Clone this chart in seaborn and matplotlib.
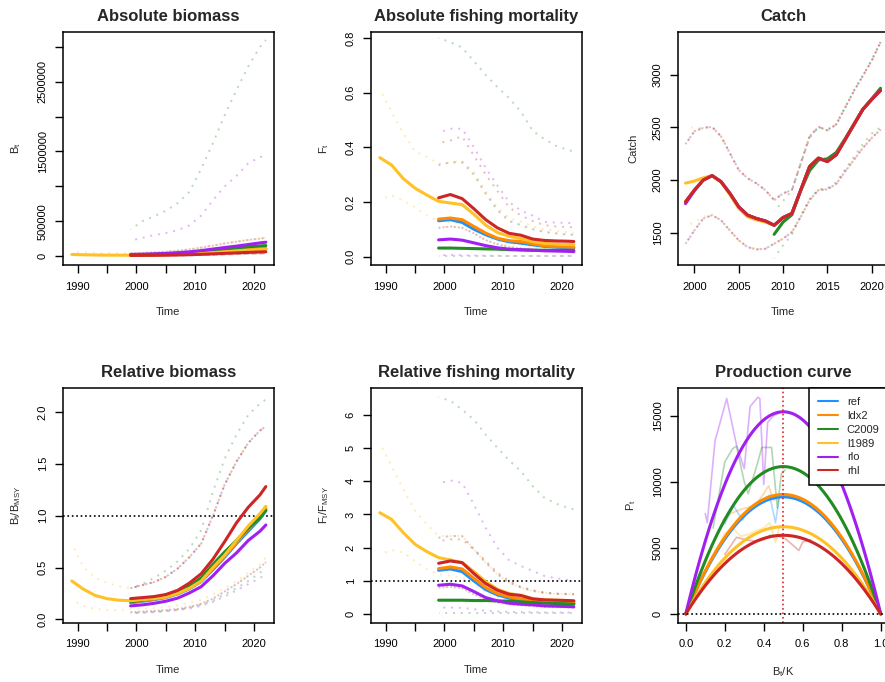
import matplotlib
matplotlib.use("Agg")
import matplotlib.pyplot as plt
from matplotlib.lines import Line2D
import seaborn as sns

sns.set_style("ticks")
plt.rcParams['font.family'] = ['Liberation Sans', 'DejaVu Sans']
plt.rcParams['mathtext.default'] = 'regular'

# ---------------- data ----------------
models = ["ref", "ldx2", "C2009", "l1989", "rlo", "rhl"]
colors = {"ref": "#1E90FF", "ldx2": "#FF8C00", "C2009": "#228B22",
          "l1989": "#FFC125", "rlo": "#A020F0", "rhl": "#CD2626"}

years99 = [1999, 2001, 2003, 2005, 2007, 2009, 2011, 2013, 2015, 2017, 2019, 2021, 2022]
years89 = [1989, 1991, 1993, 1995, 1997] + years99

# Absolute biomass
B_est = {
    "ref":   [15000, 17000, 20000, 24000, 30000, 38000, 48000, 60000, 72000, 82000, 92000, 100000, 104000],
    "ldx2":  [14000, 16000, 19000, 23000, 29000, 37000, 47000, 59000, 71000, 81000, 91000, 99000, 103000],
    "C2009": [18000, 21000, 25000, 31000, 39000, 50000, 65000, 84000, 102000, 118000, 132000, 144000, 150000],
    "l1989": [22000, 18000, 15000, 13000, 12000, 12000, 13000, 15000, 18000, 23000, 30000, 38000, 48000,
              60000, 72000, 84000, 94000, 98000],
    "rlo":   [22000, 26000, 31000, 38000, 48000, 60000, 78000, 100000, 122000, 142000, 165000, 188000, 198000],
    "rhl":   [8000, 9000, 10000, 12000, 15000, 19000, 24000, 31000, 38000, 45000, 52000, 58000, 61000],
}
B_hi_small = [40000, 45000, 52000, 62000, 77000, 95000, 120000, 150000, 180000, 205000, 230000, 250000, 260000]
B_hi = {
    "ref": B_hi_small, "ldx2": B_hi_small, "rhl": B_hi_small,
    "C2009": [380000, 500000, 570000, 650000, 760000, 920000, 1250000, 1620000, 2020000, 2380000,
              2720000, 3000000, 3100000],
    "l1989": [60000, 52000, 45000, 42000, 40000, 40000, 45000, 52000, 62000, 77000, 95000, 120000, 150000,
              180000, 205000, 230000, 250000, 260000],
    "rlo":   [220000, 260000, 300000, 330000, 370000, 440000, 580000, 800000, 1000000, 1150000,
              1330000, 1420000, 1440000],
}
B_lo_small = [5000, 5000, 6000, 7000, 9000, 11000, 14000, 18000, 23000, 28000, 33000, 37000, 39000]
B_lo = {
    "ref": B_lo_small, "ldx2": B_lo_small, "C2009": B_lo_small, "rlo": B_lo_small, "rhl": B_lo_small,
    "l1989": [8000, 7000, 6000, 5000, 5000] + B_lo_small,
}

# Absolute fishing mortality
F_est = {
    "ref":   [0.131, 0.135, 0.125, 0.100, 0.080, 0.064, 0.054, 0.049, 0.043, 0.037, 0.034, 0.032, 0.031],
    "ldx2":  [0.137, 0.141, 0.135, 0.110, 0.086, 0.067, 0.058, 0.055, 0.047, 0.039, 0.036, 0.035, 0.034],
    "C2009": [0.031, 0.031, 0.030, 0.029, 0.028, 0.027, 0.025, 0.024, 0.023, 0.023, 0.022, 0.022, 0.022],
    "l1989": [0.362, 0.335, 0.285, 0.250, 0.225, 0.202, 0.196, 0.190, 0.155, 0.115, 0.088, 0.074, 0.066,
              0.055, 0.048, 0.046, 0.044, 0.043],
    "rlo":   [0.061, 0.064, 0.060, 0.050, 0.040, 0.032, 0.027, 0.025, 0.023, 0.021, 0.020, 0.019, 0.018],
    "rhl":   [0.215, 0.227, 0.212, 0.175, 0.135, 0.105, 0.085, 0.078, 0.064, 0.059, 0.057, 0.056, 0.055],
}
F_hi_mid = [0.335, 0.345, 0.345, 0.30, 0.23, 0.17, 0.13, 0.115, 0.10, 0.09, 0.085, 0.08, 0.08]
F_hi = {
    "ref": F_hi_mid, "ldx2": F_hi_mid,
    "C2009": [0.80, 0.785, 0.765, 0.715, 0.665, 0.62, 0.58, 0.53, 0.46, 0.43, 0.405, 0.39, 0.385],
    "l1989": [0.613, 0.53, 0.45, 0.385, 0.365, 0.34, 0.345, 0.35, 0.31, 0.24, 0.18, 0.14, 0.128, 0.11,
              0.10, 0.095, 0.088, 0.086],
    "rlo":   [0.454, 0.468, 0.468, 0.40, 0.325, 0.26, 0.20, 0.168, 0.15, 0.127, 0.124, 0.123, 0.122],
    "rhl":   [0.415, 0.425, 0.44, 0.37, 0.30, 0.24, 0.18, 0.15, 0.13, 0.115, 0.11, 0.108, 0.107],
}
F_lo_mid = [0.105, 0.11, 0.105, 0.085, 0.06, 0.045, 0.035, 0.03, 0.027, 0.024, 0.022, 0.02, 0.02]
F_lo = {
    "ref": F_lo_mid, "ldx2": F_lo_mid, "rhl": F_lo_mid,
    "C2009": [0.002, 0.002, 0.002, 0.002, 0.002, 0.002, 0.002, 0.002, 0.002, 0.002, 0.002, 0.002, 0.002],
    "l1989": [0.209, 0.224, 0.205, 0.18, 0.15, 0.13, 0.125, 0.12, 0.10, 0.075, 0.055, 0.045, 0.042, 0.035,
              0.03, 0.03, 0.028, 0.028],
    "rlo":   [0.005, 0.006, 0.005, 0.004, 0.003, 0.003, 0.002, 0.002, 0.002, 0.002, 0.002, 0.002, 0.002],
}

# Catch
years_c = list(range(1999, 2022))
years_c09 = list(range(2009, 2022))
C_main = [1793, 1904, 2000, 2041, 1984, 1873, 1745, 1666, 1634, 1611, 1570, 1643, 1682, 1904, 2127,
          2207, 2175, 2239, 2382, 2526, 2669, 2764, 2850]
C_est = {
    "ref": C_main, "ldx2": C_main, "rhl": C_main,
    "rlo": [1775, 1898, 1998, 2041, 1984, 1873, 1745, 1666, 1634, 1611, 1570, 1643, 1682, 1904, 2127,
            2207, 2175, 2239, 2382, 2526, 2669, 2764, 2850],
    "l1989": [1970, 1990, 2020, 2041, 1980, 1862, 1730, 1650, 1620, 1600, 1570, 1643, 1682, 1904, 2127,
              2207, 2175, 2239, 2382, 2526, 2669, 2764, 2850],
    "C2009": [1484, 1600, 1670, 1900, 2090, 2190, 2200, 2260, 2390, 2530, 2670, 2770, 2870],
}
C_hi_main = [2340, 2462, 2494, 2503, 2414, 2255, 2096, 2016, 1968, 1904, 1809, 1873, 1904, 2159, 2414,
             2503, 2471, 2526, 2685, 2844, 2987, 3131, 3306]
C_lo_main = [1395, 1522, 1634, 1666, 1618, 1522, 1427, 1363, 1341, 1347, 1395, 1443, 1506, 1650, 1809,
             1904, 1911, 1962, 2080, 2191, 2303, 2398, 2478]
C_hi = {
    "ref": C_hi_main, "ldx2": C_hi_main, "rlo": C_hi_main, "rhl": C_hi_main,
    "l1989": [2510, 2490, 2500, 2505, 2414, 2255, 2096, 2016, 1968, 1904, 1809, 1873, 1904, 2159, 2414,
              2503, 2471, 2526, 2685, 2844, 2987, 3131, 3306],
    "C2009": [1700, 1800, 1900, 2150, 2400, 2500, 2480, 2530, 2690, 2850, 2990, 3140, 3310],
}
C_lo = {
    "ref": C_lo_main, "ldx2": C_lo_main, "rlo": C_lo_main, "rhl": C_lo_main,
    "l1989": [1560, 1600, 1650, 1670, 1618, 1522, 1427, 1363, 1341, 1347, 1395, 1443, 1506, 1650, 1809,
              1904, 1911, 1962, 2080, 2191, 2303, 2398, 2478],
    "C2009": [1260, 1380, 1480, 1660, 1820, 1910, 1920, 1980, 2100, 2220, 2340, 2440, 2500],
}

# Relative biomass
BB_est = {
    "ref":   [0.16, 0.175, 0.19, 0.21, 0.245, 0.295, 0.365, 0.48, 0.60, 0.73, 0.85, 0.97, 1.05],
    "ldx2":  [0.165, 0.18, 0.195, 0.215, 0.25, 0.30, 0.37, 0.49, 0.61, 0.74, 0.87, 0.99, 1.07],
    "C2009": [0.17, 0.185, 0.20, 0.22, 0.26, 0.32, 0.40, 0.53, 0.65, 0.76, 0.88, 0.98, 1.05],
    "l1989": [0.37, 0.29, 0.23, 0.20, 0.185, 0.18, 0.19, 0.20, 0.215, 0.25, 0.30, 0.37, 0.50, 0.62,
              0.76, 0.90, 1.02, 1.09],
    "rlo":   [0.13, 0.14, 0.155, 0.175, 0.205, 0.255, 0.315, 0.42, 0.54, 0.64, 0.76, 0.85, 0.91],
    "rhl":   [0.20, 0.21, 0.22, 0.24, 0.28, 0.35, 0.44, 0.58, 0.75, 0.93, 1.08, 1.20, 1.28],
}
BB_hi_mid = [0.30, 0.33, 0.36, 0.41, 0.49, 0.60, 0.73, 1.00, 1.30, 1.52, 1.70, 1.82, 1.86]
BB_hi = {
    "ref": BB_hi_mid, "ldx2": BB_hi_mid, "rlo": BB_hi_mid, "rhl": BB_hi_mid,
    "C2009": [0.30, 0.34, 0.40, 0.47, 0.56, 0.68, 0.86, 1.23, 1.55, 1.78, 1.97, 2.08, 2.12],
    "l1989": [0.73, 0.50, 0.40, 0.35, 0.32, 0.30, 0.33, 0.36, 0.41, 0.49, 0.60, 0.73, 1.00, 1.30,
              1.52, 1.70, 1.82, 1.86],
}
BB_lo_mid = [0.07, 0.075, 0.08, 0.09, 0.10, 0.12, 0.15, 0.20, 0.27, 0.34, 0.42, 0.50, 0.55]
BB_lo = {
    "ref": BB_lo_mid, "ldx2": BB_lo_mid, "rhl": BB_lo_mid,
    "C2009": [0.06, 0.065, 0.07, 0.08, 0.09, 0.11, 0.14, 0.18, 0.24, 0.30, 0.37, 0.45, 0.49],
    "rlo":   [0.06, 0.065, 0.07, 0.08, 0.09, 0.105, 0.13, 0.17, 0.22, 0.28, 0.34, 0.40, 0.43],
    "l1989": [0.19, 0.13, 0.10, 0.09, 0.09, 0.10, 0.105, 0.11, 0.12, 0.135, 0.16, 0.19, 0.24, 0.30,
              0.37, 0.45, 0.53, 0.60],
}

# Relative fishing mortality
FF_est = {
    "ref":   [1.32, 1.36, 1.28, 1.00, 0.74, 0.58, 0.48, 0.43, 0.40, 0.36, 0.34, 0.33, 0.32],
    "ldx2":  [1.37, 1.42, 1.36, 1.08, 0.80, 0.62, 0.52, 0.46, 0.42, 0.38, 0.36, 0.35, 0.35],
    "C2009": [0.42, 0.42, 0.42, 0.41, 0.41, 0.40, 0.39, 0.37, 0.35, 0.33, 0.32, 0.31, 0.30],
    "l1989": [3.05, 2.85, 2.45, 2.10, 1.88, 1.70, 1.63, 1.55, 1.28, 0.98, 0.75, 0.62, 0.57, 0.47,
              0.43, 0.42, 0.41, 0.40],
    "rlo":   [0.87, 0.90, 0.85, 0.68, 0.50, 0.40, 0.33, 0.30, 0.28, 0.25, 0.24, 0.23, 0.22],
    "rhl":   [1.53, 1.60, 1.55, 1.22, 0.92, 0.72, 0.60, 0.56, 0.46, 0.43, 0.42, 0.41, 0.40],
}
FF_hi_mid = [2.30, 2.35, 2.35, 1.95, 1.55, 1.20, 0.95, 0.80, 0.70, 0.64, 0.61, 0.60, 0.60]
FF_hi = {
    "ref": FF_hi_mid, "ldx2": FF_hi_mid,
    "C2009": [6.52, 6.42, 6.15, 5.85, 5.40, 5.00, 4.62, 4.30, 3.85, 3.50, 3.32, 3.20, 3.15],
    "l1989": [5.15, 4.45, 3.75, 3.10, 2.70, 2.35, 2.35, 2.35, 1.95, 1.55, 1.20, 0.95, 0.80, 0.70,
              0.64, 0.61, 0.60, 0.60],
    "rlo":   [3.93, 4.02, 3.95, 3.30, 2.60, 2.00, 1.62, 1.45, 1.30, 1.15, 1.08, 1.03, 1.00],
    "rhl":   [2.20, 2.25, 2.25, 1.95, 1.60, 1.25, 1.00, 0.82, 0.72, 0.65, 0.62, 0.61, 0.60],
}
FF_lo_mid = [0.80, 0.82, 0.78, 0.60, 0.45, 0.35, 0.30, 0.27, 0.24, 0.22, 0.21, 0.20, 0.20]
FF_lo = {
    "ref": FF_lo_mid, "ldx2": FF_lo_mid, "rhl": FF_lo_mid,
    "C2009": [0.04, 0.04, 0.04, 0.04, 0.04, 0.04, 0.04, 0.04, 0.04, 0.04, 0.04, 0.04, 0.04],
    "l1989": [1.80, 1.93, 1.85, 1.60, 1.35, 1.20, 1.15, 1.10, 0.90, 0.65, 0.50, 0.40, 0.37, 0.32,
              0.29, 0.28, 0.27, 0.27],
    "rlo":   [0.20, 0.20, 0.19, 0.15, 0.10, 0.08, 0.07, 0.06, 0.06, 0.05, 0.05, 0.05, 0.05],
}

# Production curve (values read at B/K grid)
BK_grid = [0.0, 0.1, 0.2, 0.3, 0.4, 0.5, 0.6, 0.7, 0.8, 0.9, 1.0]
P_curve = {
    "ref":   [0, 3190, 5670, 7440, 8510, 8860, 8510, 7440, 5670, 3190, 0],
    "ldx2":  [0, 3250, 5790, 7590, 8680, 9040, 8680, 7590, 5790, 3250, 0],
    "C2009": [0, 4010, 7140, 9370, 10700, 11150, 10700, 9370, 7140, 4010, 0],
    "l1989": [0, 2380, 4220, 5540, 6340, 6600, 6340, 5540, 4220, 2380, 0],
    "rlo":   [0, 5510, 9790, 12850, 14690, 15300, 14690, 12850, 9790, 5510, 0],
    "rhl":   [0, 2140, 3810, 5000, 5710, 5950, 5710, 5000, 3810, 2140, 0],
}
jag_BK = {
    "ref":   [0.20, 0.245, 0.29, 0.33, 0.37, 0.41, 0.43, 0.46, 0.48, 0.50],
    "ldx2":  [0.19, 0.23, 0.28, 0.33, 0.37, 0.40, 0.425, 0.45, 0.48, 0.50],
    "C2009": [0.14, 0.17, 0.20, 0.24, 0.26, 0.30, 0.32, 0.36, 0.39, 0.43, 0.44, 0.47, 0.49, 0.51],
    "l1989": [0.12, 0.16, 0.20, 0.24, 0.28, 0.32, 0.36, 0.40, 0.43, 0.46, 0.48, 0.50],
    "rlo":   [0.10, 0.11, 0.15, 0.21, 0.26, 0.30, 0.33, 0.37, 0.38, 0.40, 0.42, 0.45, 0.48],
    "rhl":   [0.20, 0.26, 0.31, 0.36, 0.40, 0.43, 0.47, 0.51, 0.55, 0.58, 0.60, 0.64],
}
jag_P = {
    "ref":   [6800, 8200, 7100, 8100, 8300, 8800, 9000, 6900, 8800, 8850],
    "ldx2":  [7100, 7600, 7900, 8100, 8500, 9100, 9700, 8600, 8900, 9000],
    "C2009": [6500, 9000, 11500, 12500, 12700, 10000, 9100, 11000, 12600, 12600, 12600, 8000, 10600, 10900],
    "l1989": [4000, 5000, 6100, 6500, 5900, 6000, 6300, 6500, 6900, 5400, 6600, 6600],
    "rlo":   [7600, 6900, 13100, 16300, 12800, 11000, 15700, 16400, 16300, 9800, 14500, 15000, 15200],
    "rhl":   [4500, 5800, 5600, 5500, 5600, 5950, 5900, 5700, 5200, 4800, 5450, 5600],
}

# ---------------- drawing helpers ----------------
def draw(ax, x, y, color, ci=False, phase=0.0):
    if ci:
        sns.lineplot(x=x, y=y, ax=ax, color=color, lw=1.4, ls=(phase, (1, 3)), alpha=0.32,
                     estimator=None, sort=False, legend=False)
    else:
        sns.lineplot(x=x, y=y, ax=ax, color=color, lw=2.2,
                     estimator=None, sort=False, legend=False)


def time_panel(ax, est, hi, lo, xfor):
    for i, m in enumerate(models):
        if m in hi:
            draw(ax, xfor(m), hi[m], colors[m], ci=True, phase=i * 0.4)
        if m in lo:
            draw(ax, xfor(m), lo[m], colors[m], ci=True, phase=i * 0.4)
    for m in models:
        draw(ax, xfor(m), est[m], colors[m])


def style(ax, title, xlabel, ylabel, xlim, ylim, xt, xtl, yt, ytl):
    ax.set_xlim(xlim)
    ax.set_ylim(ylim)
    ax.set_xticks(xt)
    ax.set_xticklabels(xtl)
    ax.set_yticks(yt)
    ax.set_yticklabels(ytl, rotation=90, va='center', ha='right')
    ax.set_title(title, fontsize=12, fontweight='bold', pad=8)
    ax.set_xlabel(xlabel, fontsize=8)
    ax.set_ylabel(ylabel, fontsize=8)
    ax.xaxis.set_label_coords(0.5, -0.18)
    ax.yaxis.set_label_coords(-0.19, 0.5)
    ax.tick_params(axis='both', direction='out', length=5.5, width=1.0, labelsize=8, colors='black')
    ax.tick_params(axis='x', pad=6.5)
    ax.tick_params(axis='y', pad=5.5)
    for s in ax.spines.values():
        s.set_visible(True)
        s.set_linewidth(1.1)
        s.set_color('black')


def yrs(m):
    return years89 if m == "l1989" else years99


def yrs_c(m):
    return years_c09 if m == "C2009" else years_c


fig = plt.figure(figsize=(8.85, 6.82), dpi=100)
W = 210.5 / 885
H_top = 233 / 682
H_bot = 234.5 / 682
lefts = [63 / 885, 371 / 885, 678 / 885]
b_top = 1 - 265 / 682
b_bot = 1 - 622.5 / 682

ax1 = fig.add_axes([lefts[0], b_top, W, H_top])
ax2 = fig.add_axes([lefts[1], b_top, W, H_top])
ax3 = fig.add_axes([lefts[2], b_top, W, H_top])
ax4 = fig.add_axes([lefts[0], b_bot, W, H_bot])
ax5 = fig.add_axes([lefts[1], b_bot, W, H_bot])
ax6 = fig.add_axes([lefts[2], b_bot, W, H_bot])

txlim = (1987.5, 2023.3)
txt = [1990, 1995, 2000, 2005, 2010, 2015, 2020]
txtl = ['1990', '', '2000', '', '2010', '', '2020']

# Panel 1
time_panel(ax1, B_est, B_hi, B_lo, yrs)
style(ax1, "Absolute biomass", "Time", r"B$_t$", txlim, (-129000, 3214000), txt, txtl,
      [0, 500000, 1000000, 1500000, 2000000, 2500000, 3000000],
      ['0', '500000', '', '1500000', '', '2500000', ''])

# Panel 2
time_panel(ax2, F_est, F_hi, F_lo, yrs)
style(ax2, "Absolute fishing mortality", "Time", r"F$_t$", txlim, (-0.031, 0.822), txt, txtl,
      [0.0, 0.2, 0.4, 0.6, 0.8], ['0.0', '0.2', '0.4', '0.6', '0.8'])

# Panel 3
time_panel(ax3, C_est, C_hi, C_lo, yrs_c)
style(ax3, "Catch", "Time", "Catch", (1998.15, 2021.9), (1193, 3404),
      [2000, 2005, 2010, 2015, 2020], ['2000', '2005', '2010', '2015', '2020'],
      [1500, 2000, 2500, 3000], ['1500', '2000', '2500', '3000'])

# Panel 4
ax4.axhline(1.0, color='black', ls=':', lw=1.2, zorder=1)
time_panel(ax4, BB_est, BB_hi, BB_lo, yrs)
style(ax4, "Relative biomass", "Time", r"B$_t$/B$_{MSY}$", txlim, (-0.03, 2.23), txt, txtl,
      [0.0, 0.5, 1.0, 1.5, 2.0], ['0.0', '0.5', '1.0', '1.5', '2.0'])

# Panel 5
ax5.axhline(1.0, color='black', ls=':', lw=1.2, zorder=1)
time_panel(ax5, FF_est, FF_hi, FF_lo, yrs)
style(ax5, "Relative fishing mortality", "Time", r"F$_t$/F$_{MSY}$", txlim, (-0.25, 6.8), txt, txtl,
      [0, 1, 2, 3, 4, 5, 6], ['0', '1', '2', '3', '4', '5', '6'])

# Panel 6
for m in models:
    sns.lineplot(x=jag_BK[m], y=jag_P[m], ax=ax6, color=colors[m], lw=1.2, alpha=0.35,
                 estimator=None, sort=False, legend=False)
for m in models:
    sns.regplot(x=BK_grid, y=P_curve[m], ax=ax6, order=2, scatter=False, ci=None, truncate=True,
                color=colors[m], line_kws={'lw': 2.2})
ax6.axhline(0, color='black', ls=':', lw=1.2)
ax6.axvline(0.5, color='#E3262A', ls=':', lw=1.2)
style(ax6, "Production curve", r"B$_t$/K", r"P$_t$", (-0.04, 1.04), (-650, 17100),
      [0.0, 0.2, 0.4, 0.6, 0.8, 1.0], ['0.0', '0.2', '0.4', '0.6', '0.8', '1.0'],
      [0, 5000, 10000, 15000], ['0', '5000', '10000', '15000'])
handles = [Line2D([0], [0], color=colors[m], lw=1.5) for m in models]
leg = ax6.legend(handles, models, loc='upper right', bbox_to_anchor=(1, 1), borderaxespad=0,
                 fontsize=8, frameon=True, fancybox=False, framealpha=1, edgecolor='black',
                 handlelength=1.8, handletextpad=0.8, borderpad=0.8, labelspacing=0.35)
leg.get_frame().set_linewidth(1.1)

fig.savefig("out.png", dpi=100)
